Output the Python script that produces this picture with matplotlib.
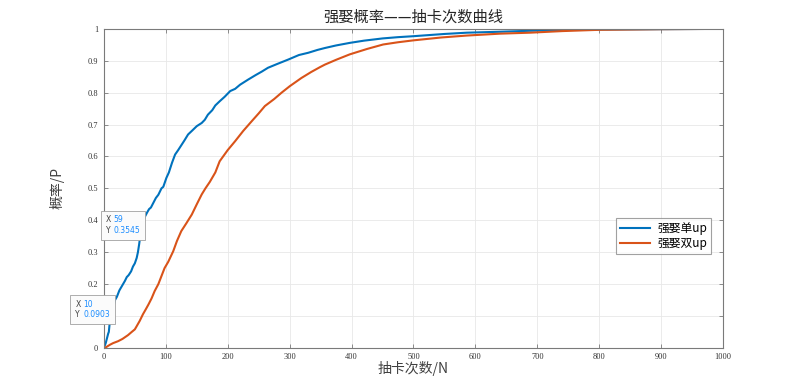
import matplotlib
matplotlib.use('Agg')
import matplotlib.pyplot as plt
from matplotlib.offsetbox import TextArea, HPacker, AnnotationBbox

# Data (draw count -> probability)
single_x = [0, 3, 5, 7, 8, 9, 10, 12, 15, 18, 21, 25, 28, 31, 34, 37, 40, 44, 47, 50,
            53, 55, 57, 59, 61, 63, 66, 70, 73, 76, 80, 84, 88, 93, 96, 101, 105, 110,
            115, 120, 125, 130, 136, 142, 150, 158, 163, 168, 175, 180, 187, 195, 204,
            212, 220, 233, 245, 255, 265, 280, 298, 315, 330, 345, 357, 375, 397, 420,
            450, 475, 500, 550, 586, 640, 688, 750, 800, 900, 1000]
single_p = [0, 0.015, 0.03, 0.045, 0.05, 0.07, 0.0903, 0.10, 0.125, 0.15, 0.16, 0.18,
            0.19, 0.20, 0.21, 0.222, 0.228, 0.24, 0.255, 0.265, 0.282, 0.30, 0.325,
            0.3545, 0.37, 0.385, 0.41, 0.425, 0.435, 0.44, 0.455, 0.47, 0.48, 0.50,
            0.505, 0.533, 0.55, 0.58, 0.606, 0.62, 0.635, 0.65, 0.669, 0.68, 0.695,
            0.705, 0.715, 0.731, 0.745, 0.76, 0.773, 0.787, 0.805, 0.812, 0.825, 0.841,
            0.855, 0.866, 0.878, 0.89, 0.904, 0.918, 0.925, 0.934, 0.94, 0.948, 0.956,
            0.963, 0.97, 0.974, 0.977, 0.984, 0.988, 0.991, 0.994, 0.997, 0.998, 0.999,
            1.0]

double_x = [0, 2, 5, 10, 15, 23, 30, 39, 45, 50, 53, 58, 63, 68, 72, 77, 82, 88, 93,
            98, 104, 112, 118, 125, 133, 142, 150, 158, 164, 171, 180, 187, 200, 212,
            225, 239, 250, 260, 275, 287, 300, 319, 335, 349, 357, 375, 397, 425, 451,
            475, 500, 545, 586, 640, 688, 740, 800, 900, 1000]
double_p = [0, 0, 0.004, 0.01, 0.015, 0.021, 0.028, 0.04, 0.05, 0.058, 0.068, 0.085,
            0.105, 0.122, 0.136, 0.155, 0.178, 0.20, 0.225, 0.25, 0.27, 0.303, 0.335,
            0.366, 0.39, 0.418, 0.45, 0.481, 0.50, 0.52, 0.55, 0.585, 0.62, 0.648,
            0.68, 0.711, 0.735, 0.758, 0.78, 0.80, 0.82, 0.846, 0.865, 0.88, 0.888,
            0.903, 0.92, 0.937, 0.951, 0.958, 0.964, 0.973, 0.979, 0.985, 0.988,
            0.993, 0.997, 0.999, 1.0]

# data tips shown on the single-up curve
tips = [(10, 0.0903), (59, 0.3545)]

cjk = ['Noto Sans CJK SC', 'DejaVu Sans']
blue = '#0072BD'
orange = '#D95319'
axis_col = '#7a7a7a'

fig = plt.figure(figsize=(7.99, 3.90), dpi=100)
ax = fig.add_axes([0.130, 0.108, 0.775, 0.818])

ax.plot(single_x, single_p, color=blue, lw=1.5, label='强娶单up')
ax.plot(double_x, double_p, color=orange, lw=1.5, label='强娶双up')

ax.set_xlim(0, 1000)
ax.set_ylim(0, 1)
ax.set_xticks(range(0, 1001, 100))
ax.set_yticks([i / 10 for i in range(11)])
ax.set_yticklabels(['0'] + ['0.%d' % i for i in range(1, 10)] + ['1'])
ax.grid(True, color='#e8e8e8', lw=0.6)
ax.set_axisbelow(True)
ax.tick_params(direction='in', top=True, right=True, length=3, width=0.6,
               colors=axis_col, labelcolor='#333333', labelsize=6, pad=4)
for lab in ax.get_xticklabels() + ax.get_yticklabels():
    lab.set_family('Liberation Serif')
for sp in ax.spines.values():
    sp.set_color(axis_col)
    sp.set_linewidth(0.8)

ax.set_title('强娶概率——抽卡次数曲线', family=cjk, fontsize=11, color='#262626', pad=5)
ax.set_xlabel('抽卡次数/N', family=cjk, fontsize=10, color='#404040', labelpad=0)
ax.set_ylabel('概率/P', family=cjk, fontsize=10, color='#404040', labelpad=17)

leg = ax.legend(loc='upper right', bbox_to_anchor=(0.99, 0.425), prop={'family': cjk, 'size': 8.5},
                frameon=True, fancybox=False, borderpad=0.3, handlelength=2.6,
                handletextpad=0.6, labelspacing=0.2)
leg.get_frame().set_edgecolor('#8a8a8a')
leg.get_frame().set_linewidth(0.8)

# data tips
for tx, ty in tips:
    ax.plot(tx, ty, 's', color='black', ms=2.2, zorder=5)
    names = TextArea('X\nY', textprops=dict(color='#404040', fontsize=5.5, family='DejaVu Sans'))
    vals = TextArea('%d\n%.4f' % (tx, ty), textprops=dict(color='#1a8cff', fontsize=5.5,
                                                         family='DejaVu Sans'))
    box = HPacker(children=[names, vals], pad=0, sep=2)
    ab = AnnotationBbox(box, (tx, ty), xybox=(0, 0), boxcoords='offset points',
                        box_alignment=(1, 0), pad=0.35, zorder=6,
                        bboxprops=dict(facecolor='#fbfbfb', edgecolor='#a0a0a0', lw=0.6))
    ax.add_artist(ab)

fig.savefig('out.png', dpi=100, facecolor='white')
